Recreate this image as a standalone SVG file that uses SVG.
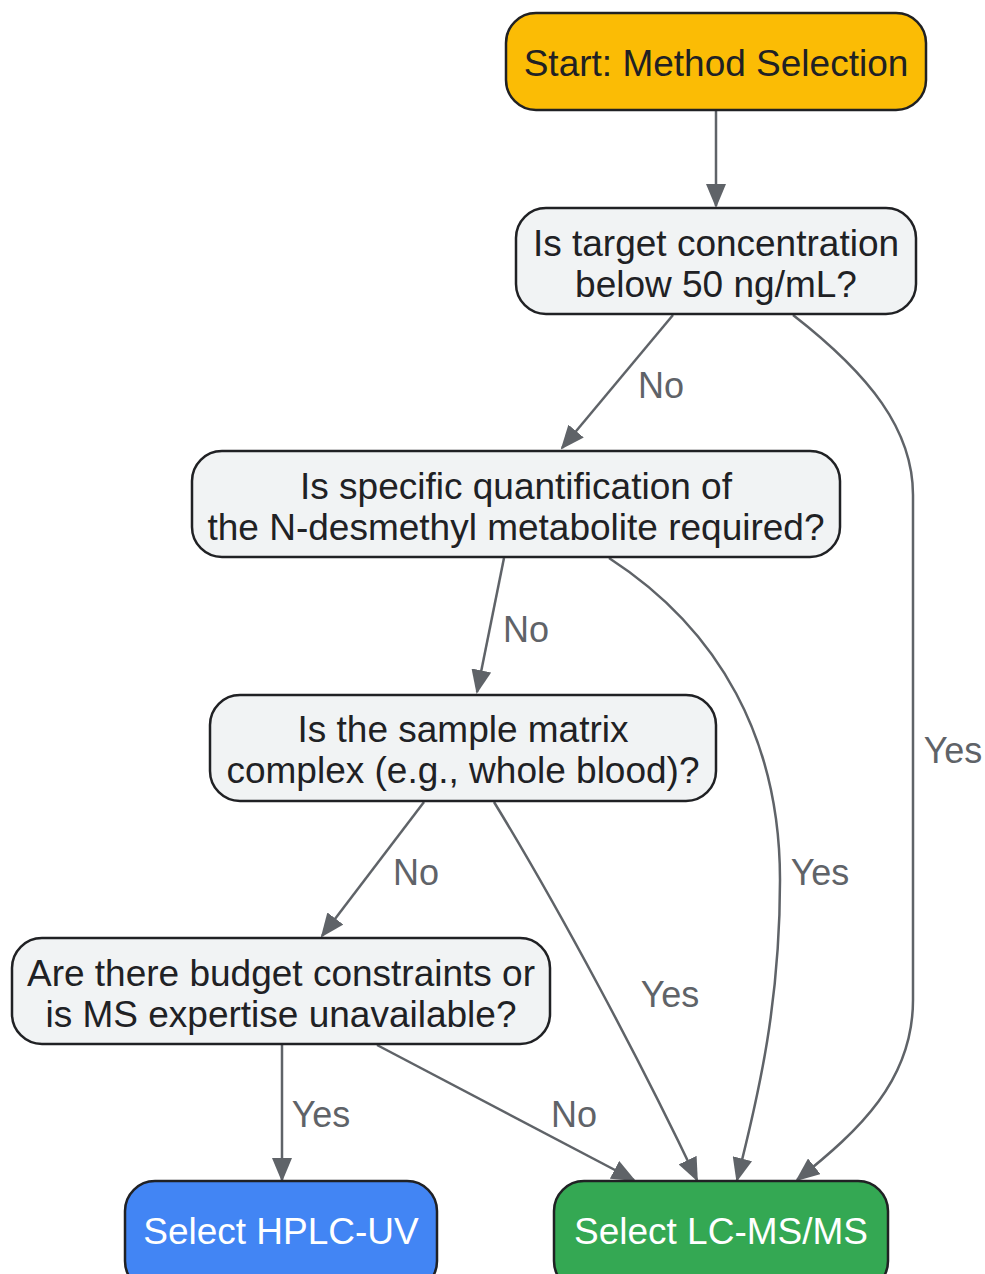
<svg xmlns="http://www.w3.org/2000/svg" width="985" height="1274" viewBox="0 0 985 1274">
<style>
.node rect{stroke:#202124;stroke-width:2.5}
.q rect{fill:#F1F3F4}
.t{font-family:"Liberation Sans",Arial,sans-serif;font-size:37px;fill:#202124;text-anchor:middle;dominant-baseline:central}
.w{fill:#FFFFFF}
.edge{fill:none;stroke:#5F6368;stroke-width:2.5;marker-end:url(#arr)}
.lbl{font-family:"Liberation Sans",Arial,sans-serif;font-size:36px;fill:#5F6368;text-anchor:middle;dominant-baseline:central}
</style>
<defs>
<marker id="arr" markerUnits="userSpaceOnUse" markerWidth="24" markerHeight="20" refX="22" refY="10" orient="auto">
<path d="M0,0 L24,10 L0,20 Z" fill="#5F6368"/>
</marker>
</defs>
<rect width="985" height="1274" fill="#FFFFFF"/>
<g id="connectors">
<path class="edge" d="M716,110 L716,206"/>
<path class="edge" d="M673,315 L562,448"/>
<path class="edge" d="M793,315 C870,375 913,430 913,495 L913,1000 C913,1080 860,1130 797,1180"/>
<path class="edge" d="M504,558 L477,692"/>
<path class="edge" d="M609,558 C720,630 780,740 780,880 C780,1000 760,1090 737,1180"/>
<path class="edge" d="M424,802 L322,936"/>
<path class="edge" d="M494,802 C560,910 640,1060 697,1180"/>
<path class="edge" d="M282,1045 L282,1180"/>
<path class="edge" d="M377,1045 L634,1180"/>
<text class="lbl" x="661" y="385">No</text>
<text class="lbl" x="953" y="750">Yes</text>
<text class="lbl" x="526" y="629">No</text>
<text class="lbl" x="820" y="872">Yes</text>
<text class="lbl" x="416" y="872">No</text>
<text class="lbl" x="670" y="994">Yes</text>
<text class="lbl" x="321" y="1114">Yes</text>
<text class="lbl" x="574" y="1114">No</text>
</g>
<g id="start" class="node">
<rect x="506" y="13" width="420" height="97" rx="30" fill="#FBBC05"/>
<text class="t" x="716" y="63">Start: Method Selection</text>
</g>
<g id="q1" class="node q">
<rect x="516" y="208" width="400" height="106" rx="30"/>
<text class="t" x="716" y="243">Is target concentration</text>
<text class="t" x="716" y="284">below 50 ng/mL?</text>
</g>
<g id="q2" class="node q">
<rect x="192" y="451" width="648" height="106" rx="30"/>
<text class="t" x="516" y="486">Is specific quantification of</text>
<text class="t" x="516" y="527">the N-desmethyl metabolite required?</text>
</g>
<g id="q3" class="node q">
<rect x="210" y="695" width="506" height="106" rx="30"/>
<text class="t" x="463" y="729">Is the sample matrix</text>
<text class="t" x="463" y="770">complex (e.g., whole blood)?</text>
</g>
<g id="q4" class="node q">
<rect x="12" y="938" width="538" height="106" rx="30"/>
<text class="t" x="281" y="973">Are there budget constraints or</text>
<text class="t" x="281" y="1014">is MS expertise unavailable?</text>
</g>
<g id="hplc" class="node">
<rect x="125" y="1181" width="312" height="110" rx="30" fill="#4285F4"/>
<text class="t w" x="281" y="1231">Select HPLC-UV</text>
</g>
<g id="lcms" class="node">
<rect x="554" y="1181" width="334" height="110" rx="30" fill="#34A853"/>
<text class="t w" x="721" y="1231">Select LC-MS/MS</text>
</g>
</svg>
